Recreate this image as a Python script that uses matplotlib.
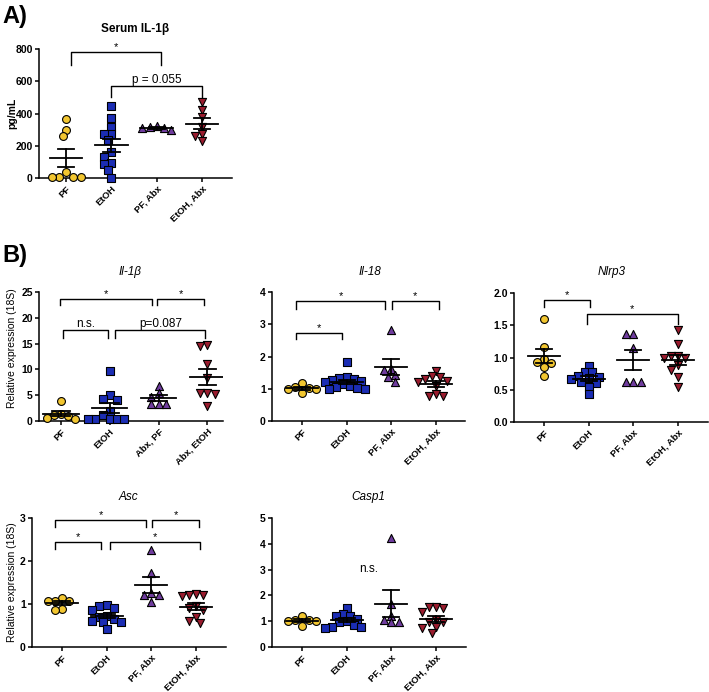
import numpy as np
import matplotlib as mpl
import matplotlib.pyplot as plt

mpl.rcParams['font.family'] = ['Liberation Sans', 'DejaVu Sans']
mpl.rcParams['axes.linewidth'] = 1.1
mpl.rcParams['xtick.major.width'] = 1.1
mpl.rcParams['ytick.major.width'] = 1.1
mpl.rcParams['xtick.major.size'] = 3
mpl.rcParams['ytick.major.size'] = 3
mpl.rcParams['xtick.major.pad'] = 1.5
mpl.rcParams['ytick.major.pad'] = 1.5

W, H = 709, 692

# ---- data ----
groups = ['PF', 'EtOH', 'PF, Abx', 'EtOH, Abx']
groups_il1b = ['PF', 'EtOH', 'Abx, PF', 'Abx, EtOH']

serum_pf = [364, 297, 260, 37, 5, 5, 5, 5]
serum_etoh = [447, 374, 318, 270, 270, 235, 160, 130, 90, 85, 50, 0]
serum_pf_abx = [325, 315, 310, 310, 295]
serum_etoh_abx = [474, 422, 378, 318, 275, 262, 228]

il1b_pf = [3.8, 1.4, 1.2, 1.0, 0.6, 0.4]
il1b_etoh = [9.6, 5.0, 4.3, 4.1, 1.9, 1.2, 0.4, 0.3, 0.3, 0.3, 0.3]
il1b_abx_pf = [6.8, 5.5, 4.6, 3.2, 3.2, 3.2]
il1b_abx_etoh = [14.7, 14.6, 11.1, 8.4, 5.5, 5.4, 5.3, 3.0]

il18_pf = [1.17, 1.05, 1.02, 1.0, 0.98, 0.87]
il18_etoh = [1.82, 1.35, 1.33, 1.3, 1.28, 1.25, 1.2, 1.15, 1.1, 1.05, 1.02, 1.0, 0.98]
il18_pf_abx = [2.83, 1.6, 1.58, 1.43, 1.35, 1.22]
il18_etoh_abx = [1.55, 1.38, 1.36, 1.3, 1.25, 1.2, 1.1, 0.85, 0.78, 0.78]

nlrp3_pf = [1.59, 1.17, 0.98, 0.93, 0.92, 0.86, 0.71]
nlrp3_etoh = [0.87, 0.78, 0.77, 0.72, 0.7, 0.68, 0.66, 0.62, 0.6, 0.55, 0.43]
nlrp3_pf_abx = [1.37, 1.37, 1.14, 0.62, 0.62, 0.62]
nlrp3_etoh_abx = [1.42, 1.21, 1.03, 1.02, 1.0, 0.99, 0.88, 0.8, 0.7, 0.55]

asc_pf = [1.14, 1.08, 1.07, 1.06, 0.88, 0.86]
asc_etoh = [0.98, 0.95, 0.9, 0.85, 0.72, 0.7, 0.65, 0.6, 0.58, 0.57, 0.41]
asc_pf_abx = [2.26, 1.72, 1.25, 1.22, 1.2, 1.05]
asc_etoh_abx = [1.24, 1.22, 1.2, 1.18, 0.95, 0.9, 0.85, 0.7, 0.6, 0.55]

casp1_pf = [1.22, 1.05, 1.03, 1.02, 1.0, 0.8]
casp1_etoh = [1.5, 1.28, 1.22, 1.2, 1.1, 1.0, 0.95, 0.85, 0.78, 0.76, 0.75]
casp1_pf_abx = [4.22, 1.68, 1.22, 1.06, 0.96, 0.95]
casp1_etoh_abx = [1.55, 1.55, 1.5, 1.35, 1.05, 0.95, 0.95, 0.78, 0.75, 0.55]

colors = ['#F2C630', '#1B2DB4', '#6F3C9E', '#9A1C2E']
markers = ['o', 's', '^', 'v']
msizes = [32, 34, 34, 34]


def px_rect(l, t, r, b):
    return [l / W, 1 - b / H, (r - l) / W, (b - t) / H]


def swarm(ax, i, vals, d=7.2):
    # simple beeswarm in pixel space so overlapping points spread sideways
    vals = np.asarray(vals, float)
    ys = ax.transData.transform(np.column_stack([np.full(len(vals), i), vals]))[:, 1]
    ppu = ax.transData.transform([[1, 0]])[0, 0] - ax.transData.transform([[0, 0]])[0, 0]
    cands = sorted([k * d * 0.5 for k in range(-14, 15)], key=lambda v: (abs(v), v))
    placed = []
    xs = np.zeros(len(vals))
    for j in np.argsort(-vals):
        for c in cands:
            if all((c - px) ** 2 + (ys[j] - py) ** 2 >= (d * 0.9) ** 2 for px, py in placed):
                placed.append((c, ys[j]))
                xs[j] = i + c / ppu
                break
    return xs


def bracket(ax, x1, x2, y, yb, txt, fs=8):
    ax.plot([x1, x1, x2, x2], [yb, y, y, yb], color='black', lw=1.0, clip_on=False)
    ax.text((x1 + x2) / 2, y, txt, ha='center', va='bottom', fontsize=fs, clip_on=False)


def panel(rect, data, labels, xlim, ylim, yticks, title, title_style, ylabel=None,
          ylabel_xy=None, ylabel_bold=False, brackets=(), yfmt=None):
    ax = fig.add_axes(px_rect(*rect))
    ax.set_xlim(*xlim)
    ax.set_ylim(*ylim)
    for i, vals in enumerate(data):
        xs = swarm(ax, i, vals)
        ax.scatter(xs, vals, s=msizes[i], marker=markers[i], color=colors[i],
                   edgecolor='black', linewidth=0.8, zorder=3, clip_on=False)
        m = np.mean(vals)
        se = np.std(vals, ddof=1) / np.sqrt(len(vals))
        ax.plot([i - 0.36, i + 0.36], [m, m], color='black', lw=1.3, zorder=4)
        ax.plot([i, i], [m - se, m + se], color='black', lw=1.3, zorder=4)
        ax.plot([i - 0.18, i + 0.18], [m + se, m + se], color='black', lw=1.3, zorder=4)
        ax.plot([i - 0.18, i + 0.18], [m - se, m - se], color='black', lw=1.3, zorder=4)
    ax.set_xticks(range(len(labels)))
    ax.set_xticklabels(labels, rotation=45, ha='right', rotation_mode='anchor',
                       fontsize=6.8, fontweight='bold')
    ax.set_yticks(yticks)
    if yfmt:
        ax.set_yticklabels([yfmt.format(v) for v in yticks])
    for t in ax.get_yticklabels():
        t.set_fontsize(7.5)
        t.set_fontweight('bold')
    ax.spines['top'].set_visible(False)
    ax.spines['right'].set_visible(False)
    fig.text(title_style[0] / W, 1 - title_style[1] / H, title, ha='center', va='center',
             fontsize=8.5, fontweight=title_style[2], style=title_style[3])
    if ylabel:
        fig.text(ylabel_xy[0] / W, 1 - ylabel_xy[1] / H, ylabel, rotation=90,
                 ha='center', va='center', fontsize=7.5,
                 fontweight='bold' if ylabel_bold else 'normal')
    for b in brackets:
        bracket(ax, *b)
    return ax


fig = plt.figure(figsize=(W / 100, H / 100), dpi=100)

# A) serum
panel((39, 49, 232, 178), [serum_pf, serum_etoh, serum_pf_abx, serum_etoh_abx], groups,
      (-0.6, 3.66), (0, 800), [0, 200, 400, 600, 800], 'Serum IL-1β',
      (135, 29, 'bold', 'normal'), 'pg/mL', (12, 113), True,
      brackets=[(0.1, 2.1, 780, 700, '*'), (1.0, 3.0, 572, 505, 'p = 0.055', 8.5)])

# B) row 1
panel((39, 292, 223, 421), [il1b_pf, il1b_etoh, il1b_abx_pf, il1b_abx_etoh], groups_il1b,
      (-0.45, 3.32), (0, 25), [0, 5, 10, 15, 20, 25], 'Il-1β',
      (130, 272, 'normal', 'italic'), 'Relative expression (18S)', (12, 348),
      brackets=[(-0.02, 1.87, 23.7, 22.4, '*'), (1.97, 2.94, 23.7, 22.4, '*'),
                (0.04, 0.97, 17.7, 16.0, 'n.s.', 8.5), (1.11, 2.96, 17.7, 16.0, 'p=0.087', 8.5)])

panel((272, 292, 465, 421), [il18_pf, il18_etoh, il18_pf_abx, il18_etoh_abx], groups,
      (-0.67, 3.65), (0, 4), [0, 1, 2, 3, 4], 'Il-18',
      (370, 272, 'normal', 'italic'),
      brackets=[(-0.14, 1.87, 3.71, 3.48, '*'), (2.02, 3.06, 3.71, 3.48, '*'),
                (-0.13, 0.9, 2.72, 2.54, '*')])

panel((514, 293, 708, 422), [nlrp3_pf, nlrp3_etoh, nlrp3_pf_abx, nlrp3_etoh_abx], groups,
      (-0.67, 3.67), (0, 2.0), [0, 0.5, 1.0, 1.5, 2.0], 'Nlrp3',
      (612, 272, 'normal', 'italic'), yfmt='{:.1f}',
      brackets=[(0.0, 1.03, 1.89, 1.79, '*'), (0.96, 3.0, 1.67, 1.52, '*')])

# B) row 2
panel((32, 518, 226, 647), [asc_pf, asc_etoh, asc_pf_abx, asc_etoh_abx], groups,
      (-0.67, 3.67), (0, 3), [0, 1, 2, 3], 'Asc',
      (128, 497, 'normal', 'italic'), 'Relative expression (18S)', (12, 582),
      brackets=[(-0.15, 1.88, 2.95, 2.78, '*'), (2.02, 3.07, 2.95, 2.78, '*'),
                (-0.15, 0.87, 2.44, 2.27, '*'), (1.07, 3.08, 2.44, 2.27, '*')])

ax = panel((272, 518, 466, 647), [casp1_pf, casp1_etoh, casp1_pf_abx, casp1_etoh_abx], groups,
           (-0.67, 3.67), (0, 5), [0, 1, 2, 3, 4, 5], 'Casp1',
           (368, 497, 'normal', 'italic'))
ax.text(1.5, 3.04, 'n.s.', ha='center', va='center', fontsize=8.5)

fig.text(2 / W, 1 - 5 / H, 'A)', fontsize=17, fontweight='bold', ha='left', va='top')
fig.text(2 / W, 1 - 244 / H, 'B)', fontsize=17, fontweight='bold', ha='left', va='top')

fig.savefig('out.png', dpi=100)
